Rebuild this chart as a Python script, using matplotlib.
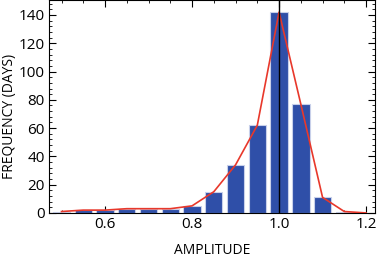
import matplotlib.pyplot as plt
from matplotlib.ticker import MultipleLocator

# histogram of amplitudes
amplitude = [0.50, 0.55, 0.60, 0.65, 0.70, 0.75, 0.80, 0.85, 0.90, 0.95, 1.00, 1.05, 1.10, 1.15]
days = [1, 2, 2, 3, 3, 3, 5, 15, 34, 62, 142, 77, 11, 1]

# fitted curve
curve_x = [0.50, 0.55, 0.60, 0.65, 0.70, 0.75, 0.80, 0.85, 0.90, 0.95, 1.00, 1.05, 1.10, 1.15, 1.20]
curve_y = [1, 2, 2, 3, 3, 3, 5, 15, 34, 62, 142, 77, 11, 1, 0]

plt.rcParams['font.family'] = ['Open Sans', 'DejaVu Sans']

fig = plt.figure(figsize=(3.79, 2.60), dpi=100)
ax = fig.add_axes([0.129, 0.181, 0.861, 0.819])

ax.bar(amplitude, days, width=0.04, color='#2f4fa8', edgecolor='#c8d0ea', linewidth=0.8, zorder=2)
ax.plot(curve_x, curve_y, color='#e8382b', lw=1.2, zorder=3)
ax.axvline(1.0, color='black', lw=1.0, zorder=4)

ax.set_xlim(0.471, 1.221)
ax.set_ylim(0, 150.6)
ax.xaxis.set_major_locator(MultipleLocator(0.2))
ax.xaxis.set_minor_locator(MultipleLocator(0.05))
ax.yaxis.set_major_locator(MultipleLocator(20))
ax.yaxis.set_minor_locator(MultipleLocator(4))
ax.xaxis.set_major_formatter(plt.FormatStrFormatter('%.1f'))

ax.tick_params(which='both', direction='in', top=True, right=True, labelsize=11, pad=3)
ax.tick_params(which='major', length=5, width=0.8)
ax.tick_params(which='minor', length=2.5, width=0.6)
for s in ax.spines.values():
    s.set_linewidth(0.8)

ax.set_xlabel('AMPLITUDE', fontsize=10, labelpad=8)
ax.set_ylabel('FREQUENCY (DAYS)', fontsize=10)
ax.yaxis.set_label_coords(-0.098, 0.455)

fig.savefig('out.png', dpi=100)
